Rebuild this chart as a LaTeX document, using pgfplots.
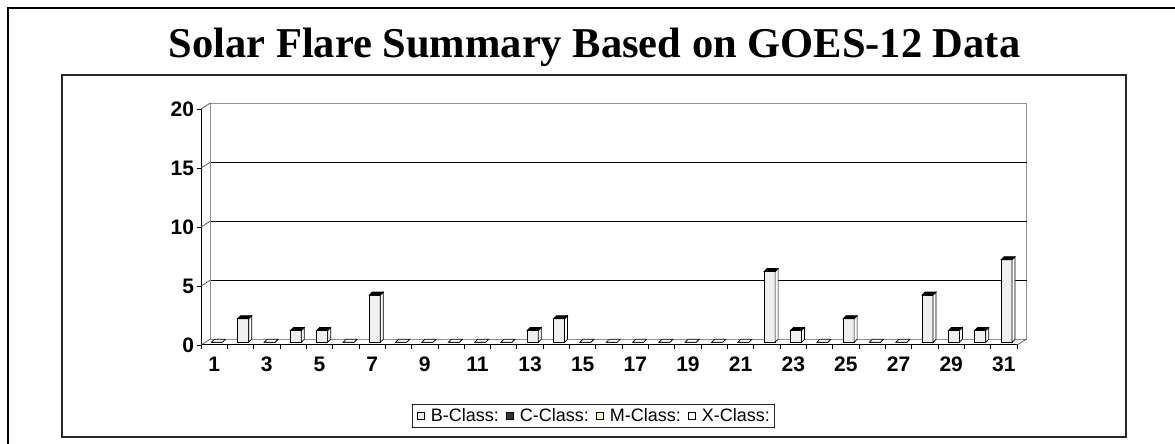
\documentclass[border=0pt]{standalone}
\usepackage{pgfplots}
\usepackage{pgfplotstable}
\pgfplotsset{compat=1.18}
\usepackage{fontspec}
\setmainfont{Liberation Sans}
\newfontfamily\titlefont{Liberation Serif}
\definecolor{barfill}{HTML}{EFEFEF}
\definecolor{barside}{HTML}{FAFAFA}
\definecolor{wallgray}{HTML}{909090}
\definecolor{cclass}{HTML}{333333}
\definecolor{mclass}{HTML}{FFFFCC}

\pgfplotstableread{
d v
1 0
2 2
3 0
4 1
5 1
6 0
7 4
8 0
9 0
10 0
11 0
12 0
13 1
14 2
15 0
16 0
17 0
18 0
19 0
20 0
21 0
22 6
23 1
24 0
25 2
26 0
27 0
28 4
29 1
30 1
31 7
}\bdata

\pgfdeclareplotmark{box3d}{%
  \pgfmathsetmacro\hh{\val*11.8}%
  \pgfpathmoveto{\pgfpoint{5.5pt}{0pt}}%
  \pgfpathlineto{\pgfpoint{8.5pt}{3pt}}%
  \pgfpathlineto{\pgfpoint{8.5pt}{3pt-\hh pt}}%
  \pgfpathlineto{\pgfpoint{5.5pt}{-\hh pt}}%
  \pgfpathclose
  \pgfsetfillcolor{barside}%
  \pgfusepath{fill,stroke}%
  \pgfpathmoveto{\pgfpoint{-5.5pt}{0pt}}%
  \pgfpathlineto{\pgfpoint{5.5pt}{0pt}}%
  \pgfpathlineto{\pgfpoint{8.5pt}{3pt}}%
  \pgfpathlineto{\pgfpoint{-2.5pt}{3pt}}%
  \pgfpathclose
  \ifdim\hh pt>0pt\pgfsetfillcolor{black}\else\pgfsetfillcolor{white}\fi
  \pgfusepath{fill,stroke}%
}

\begin{document}
\begin{tikzpicture}[x=1pt,y=1pt]
\useasboundingbox (0,0) rectangle (1175,444);
\draw[line width=2pt] (7.5,-2) -- (7.5,435.5) -- (1178,435.5);
\draw[line width=1.4pt, draw=black!85] (62,369) rectangle (1126,7);
\node[font=\titlefont\bfseries\fontsize{42.5}{50}\selectfont, anchor=base, inner sep=0pt] at (594.5,386.5) {Solar Flare Summary Based on GOES-12 Data};
\begin{axis}[
  at={(201pt,99pt)}, anchor=south west, scale only axis,
  width=816pt, height=236pt,
  xmin=0.5, xmax=31.5, ymin=0, ymax=20,
  clip=false,
  axis lines*=left,
  axis line style={black, line width=1pt},
  xtick={1,3,...,31},
  minor xtick={0.5,1.5,...,31.5},
  ytick={0,5,...,20},
  tick align=outside,
  major x tick style={draw=none},
  minor x tick style={black, line width=0.8pt},
  major y tick style={black, line width=0.8pt},
  minor tick length=4pt,
  major tick length=4.5pt,
  tick label style={font=\bfseries\fontsize{21}{24}\selectfont},
  xticklabel style={yshift=-4pt},
  yticklabel style={xshift=1pt},
  /pgf/number format/assume math mode=true,
  legend style={at={(axis description cs:0.4808,-0.3004)}, anchor=center,
    draw=black!85, line width=0.6pt, font=\fontsize{18}{21}\selectfont,
    inner xsep=4pt, inner ysep=4.5pt,
    nodes={inner sep=0pt},
    /tikz/every odd column/.append style={column sep=4pt},
    /tikz/every even column/.append style={column sep=7pt}},
  legend columns=4,
  legend image code/.code={\draw[#1, line width=0.5pt] (0pt,-3.65pt) rectangle (7.3pt,3.65pt); \path (9.5pt,0pt);},
]
% back wall
\draw[wallgray, line width=0.9pt] ([shift={(9.5pt,6pt)}]axis cs:0.5,0) rectangle ([shift={(9.5pt,6pt)}]axis cs:31.5,20);
\pgfplotsinvokeforeach{5,10,15}{
  \draw[black, line width=0.9pt] ([shift={(9.5pt,6pt)}]axis cs:0.5,#1) -- ([shift={(9.5pt,6pt)}]axis cs:31.5,#1);
}
\pgfplotsinvokeforeach{0,5,10,15,20}{
  \draw[black!70, line width=0.7pt] (axis cs:0.5,#1) -- ([shift={(9.5pt,6pt)}]axis cs:0.5,#1);
}
\draw[black!70, line width=0.7pt] (axis cs:31.5,0) -- ([shift={(9.5pt,6pt)}]axis cs:31.5,0);
% bars
\addplot[ybar, bar width=11pt, bar shift=0pt, fill=barfill, draw=black, line width=0.7pt,
  xshift=2.7pt, yshift=2.7pt, forget plot] table[x=d,y=v]{\bdata};
\addplot[only marks, mark=box3d, draw=black, line width=0.7pt,
  xshift=2.7pt, yshift=2.7pt, forget plot,
  visualization depends on={\thisrow{v} \as \val}] table[x=d,y=v]{\bdata};
\addlegendimage{fill=barfill, draw=black}
\addlegendentry{B-Class:}
\addlegendimage{fill=cclass, draw=black}
\addlegendentry{C-Class:}
\addlegendimage{fill=mclass, draw=black}
\addlegendentry{M-Class:}
\addlegendimage{fill=white, draw=black}
\addlegendentry{X-Class:}
\end{axis}
\end{tikzpicture}
\end{document}
